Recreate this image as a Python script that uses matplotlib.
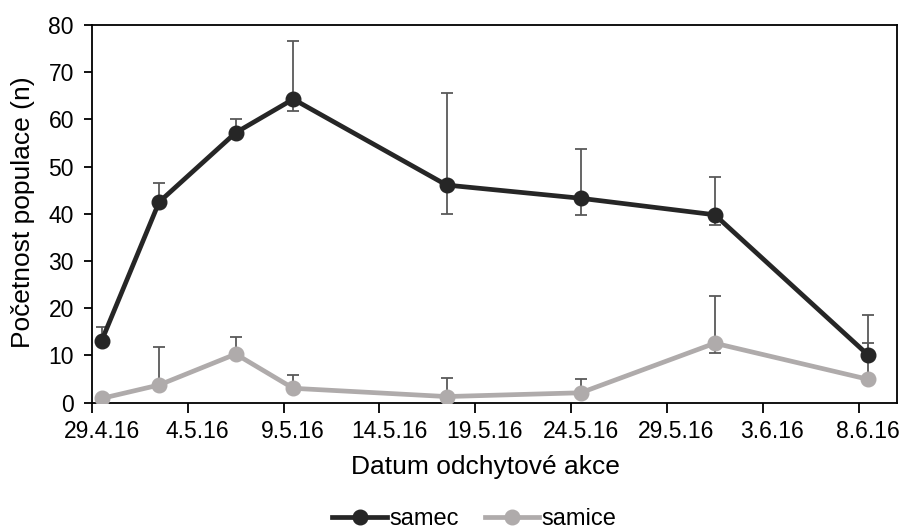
import matplotlib
matplotlib.use('Agg')
import matplotlib.pyplot as plt
import pandas as pd

# Capture dates and population estimates
dates = ['29.4.2016', '2.5.2016', '6.5.2016', '9.5.2016', '17.5.2016',
         '24.5.2016', '31.5.2016', '8.6.2016']
samec = [13.1, 42.5, 57.2, 64.3, 46.1, 43.3, 39.8, 10.1]
samec_err_low = [0.0, 0.0, 0.0, 2.6, 6.2, 3.5, 2.2, 0.0]
samec_err_high = [2.9, 4.0, 2.8, 12.3, 19.4, 10.4, 8.1, 8.5]
samice = [0.9, 3.75, 10.3, 3.05, 1.3, 2.1, 12.6, 4.95]
samice_err_low = [0.0, 0.0, 0.0, 0.0, 0.0, 0.0, 2.1, 0.0]
samice_err_high = [0.0, 8.15, 3.7, 2.75, 4.0, 2.85, 10.0, 7.75]

tick_labels = ['29.4.16', '4.5.16', '9.5.16', '14.5.16', '19.5.16',
               '24.5.16', '29.5.16', '3.6.16', '8.6.16']

plt.rcParams['font.family'] = ['Liberation Sans', 'DejaVu Sans']

start = pd.Timestamp('2016-04-29')
x = [(pd.to_datetime(d, format='%d.%m.%Y') - start).days for d in dates]

fig = plt.figure(figsize=(9.05, 5.30), dpi=100)
ax = fig.add_axes([0.1017, 0.2402, 0.8893, 0.7126])

black = '#262626'
grey = '#AFABAB'
bar_col = '#595959'

ax.errorbar(x, samice, yerr=[samice_err_low, samice_err_high], fmt='none',
            ecolor=bar_col, elinewidth=1.3, capsize=4.5, capthick=1.3, zorder=2)
ax.errorbar(x, samec, yerr=[samec_err_low, samec_err_high], fmt='none',
            ecolor=bar_col, elinewidth=1.3, capsize=4.5, capthick=1.3, zorder=2)
ax.plot(x, samice, color=grey, lw=3.4, marker='o', ms=10.5, label='samice', zorder=3)
ax.plot(x, samec, color=black, lw=3.4, marker='o', ms=10.5, label='samec', zorder=4)

# day-category axis: ticks sit between days, labels on the days
ax.set_xlim(-0.5, 41.5)
ax.set_ylim(0, 80)
label_days = [5 * i for i in range(len(tick_labels))]
ax.set_xticks([d - 0.5 for d in label_days])
ax.set_xticklabels([])
for d, lab in zip(label_days, tick_labels):
    ax.text(d, -3.7, lab, ha='center', va='top', fontsize=16.5)
ax.set_yticks(range(0, 81, 10))
ax.tick_params(axis='y', labelsize=16.5, direction='out', length=6, width=1.3, pad=7)
ax.tick_params(axis='x', direction='out', length=7, width=1.3)
for s in ax.spines.values():
    s.set_linewidth(1.3)
    s.set_color('black')

fig.text(0.025, 0.6, 'Početnost populace (n)', rotation=90, ha='center', va='center',
         fontsize=19)
fig.text(0.536, 0.119, 'Datum odchytové akce', ha='center', va='center', fontsize=19)

handles, labels = ax.get_legend_handles_labels()
fig.legend(handles[::-1], labels[::-1], loc='center', bbox_to_anchor=(0.524, 0.02),
           ncol=2, frameon=False, fontsize=17, handlelength=2.3, handletextpad=0.1,
           columnspacing=1.1, borderaxespad=0)

fig.savefig('out.png', dpi=100)
